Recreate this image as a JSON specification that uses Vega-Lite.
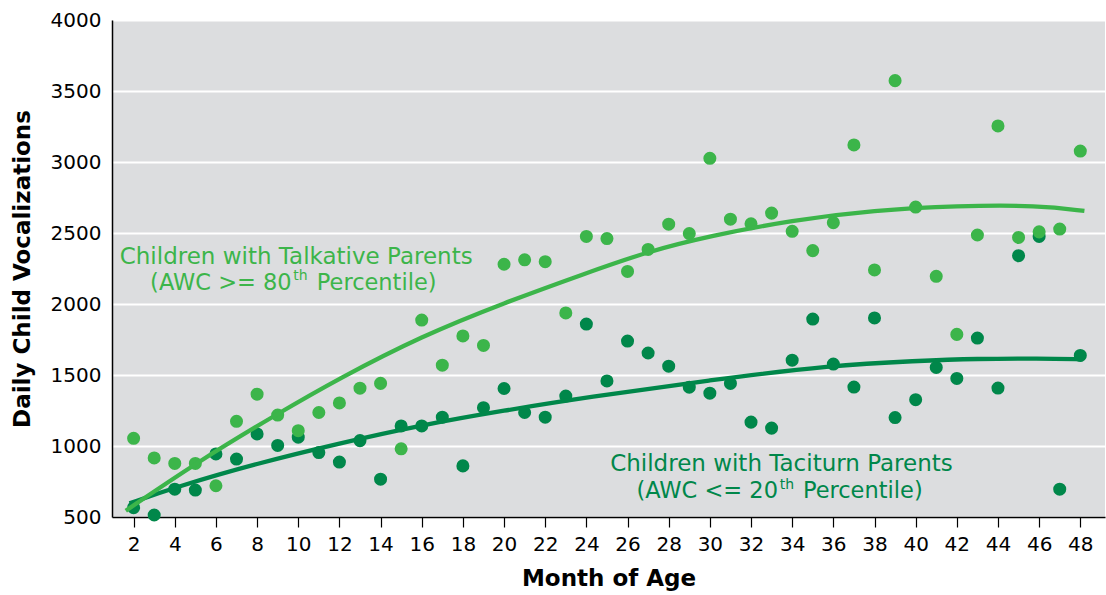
{
  "$schema": "https://vega.github.io/schema/vega-lite/v6.json",
  "width": 993,
  "height": 497,
  "autosize": {"type": "none"},
  "padding": {"left": 112, "top": 20, "right": 1, "bottom": 78},
  "background": "white",
  "config": {
    "view": {"fill": "#DCDDDF", "stroke": null},
    "font": "DejaVu Sans",
    "axis": {"labelFont": "DejaVu Sans", "titleFont": "DejaVu Sans", "labelColor": "black", "titleColor": "black"}
  },
  "datasets": {
    "points": [
      {"month": 2, "value": 566, "series": "Taciturn"},
      {"month": 3, "value": 514, "series": "Taciturn"},
      {"month": 4, "value": 696, "series": "Taciturn"},
      {"month": 5, "value": 690, "series": "Taciturn"},
      {"month": 6, "value": 944, "series": "Taciturn"},
      {"month": 7, "value": 908, "series": "Taciturn"},
      {"month": 8, "value": 1085, "series": "Taciturn"},
      {"month": 9, "value": 1004, "series": "Taciturn"},
      {"month": 10, "value": 1062, "series": "Taciturn"},
      {"month": 11, "value": 954, "series": "Taciturn"},
      {"month": 12, "value": 887, "series": "Taciturn"},
      {"month": 13, "value": 1038, "series": "Taciturn"},
      {"month": 14, "value": 766, "series": "Taciturn"},
      {"month": 15, "value": 1141, "series": "Taciturn"},
      {"month": 16, "value": 1141, "series": "Taciturn"},
      {"month": 17, "value": 1203, "series": "Taciturn"},
      {"month": 18, "value": 860, "series": "Taciturn"},
      {"month": 19, "value": 1270, "series": "Taciturn"},
      {"month": 20, "value": 1405, "series": "Taciturn"},
      {"month": 21, "value": 1236, "series": "Taciturn"},
      {"month": 22, "value": 1203, "series": "Taciturn"},
      {"month": 23, "value": 1352, "series": "Taciturn"},
      {"month": 24, "value": 1859, "series": "Taciturn"},
      {"month": 25, "value": 1458, "series": "Taciturn"},
      {"month": 26, "value": 1739, "series": "Taciturn"},
      {"month": 27, "value": 1655, "series": "Taciturn"},
      {"month": 28, "value": 1562, "series": "Taciturn"},
      {"month": 29, "value": 1414, "series": "Taciturn"},
      {"month": 30, "value": 1372, "series": "Taciturn"},
      {"month": 31, "value": 1441, "series": "Taciturn"},
      {"month": 32, "value": 1168, "series": "Taciturn"},
      {"month": 33, "value": 1126, "series": "Taciturn"},
      {"month": 34, "value": 1604, "series": "Taciturn"},
      {"month": 35, "value": 1894, "series": "Taciturn"},
      {"month": 36, "value": 1577, "series": "Taciturn"},
      {"month": 37, "value": 1415, "series": "Taciturn"},
      {"month": 38, "value": 1902, "series": "Taciturn"},
      {"month": 39, "value": 1200, "series": "Taciturn"},
      {"month": 40, "value": 1326, "series": "Taciturn"},
      {"month": 41, "value": 1553, "series": "Taciturn"},
      {"month": 42, "value": 1476, "series": "Taciturn"},
      {"month": 43, "value": 1760, "series": "Taciturn"},
      {"month": 44, "value": 1408, "series": "Taciturn"},
      {"month": 45, "value": 2340, "series": "Taciturn"},
      {"month": 46, "value": 2476, "series": "Taciturn"},
      {"month": 47, "value": 696, "series": "Taciturn"},
      {"month": 48, "value": 1638, "series": "Taciturn"},
      {"month": 2, "value": 1054, "series": "Talkative"},
      {"month": 3, "value": 916, "series": "Talkative"},
      {"month": 4, "value": 877, "series": "Talkative"},
      {"month": 5, "value": 877, "series": "Talkative"},
      {"month": 6, "value": 720, "series": "Talkative"},
      {"month": 7, "value": 1174, "series": "Talkative"},
      {"month": 8, "value": 1365, "series": "Talkative"},
      {"month": 9, "value": 1218, "series": "Talkative"},
      {"month": 10, "value": 1108, "series": "Talkative"},
      {"month": 11, "value": 1236, "series": "Talkative"},
      {"month": 12, "value": 1303, "series": "Talkative"},
      {"month": 13, "value": 1407, "series": "Talkative"},
      {"month": 14, "value": 1441, "series": "Talkative"},
      {"month": 15, "value": 980, "series": "Talkative"},
      {"month": 16, "value": 1887, "series": "Talkative"},
      {"month": 17, "value": 1569, "series": "Talkative"},
      {"month": 18, "value": 1775, "series": "Talkative"},
      {"month": 19, "value": 1708, "series": "Talkative"},
      {"month": 20, "value": 2280, "series": "Talkative"},
      {"month": 21, "value": 2311, "series": "Talkative"},
      {"month": 22, "value": 2298, "series": "Talkative"},
      {"month": 23, "value": 1937, "series": "Talkative"},
      {"month": 24, "value": 2476, "series": "Talkative"},
      {"month": 25, "value": 2461, "series": "Talkative"},
      {"month": 26, "value": 2229, "series": "Talkative"},
      {"month": 27, "value": 2384, "series": "Talkative"},
      {"month": 28, "value": 2562, "series": "Talkative"},
      {"month": 29, "value": 2496, "series": "Talkative"},
      {"month": 30, "value": 3026, "series": "Talkative"},
      {"month": 31, "value": 2597, "series": "Talkative"},
      {"month": 32, "value": 2565, "series": "Talkative"},
      {"month": 33, "value": 2640, "series": "Talkative"},
      {"month": 34, "value": 2512, "series": "Talkative"},
      {"month": 35, "value": 2376, "series": "Talkative"},
      {"month": 36, "value": 2573, "series": "Talkative"},
      {"month": 37, "value": 3120, "series": "Talkative"},
      {"month": 38, "value": 2240, "series": "Talkative"},
      {"month": 39, "value": 3573, "series": "Talkative"},
      {"month": 40, "value": 2683, "series": "Talkative"},
      {"month": 41, "value": 2195, "series": "Talkative"},
      {"month": 42, "value": 1786, "series": "Talkative"},
      {"month": 43, "value": 2486, "series": "Talkative"},
      {"month": 44, "value": 3254, "series": "Talkative"},
      {"month": 45, "value": 2469, "series": "Talkative"},
      {"month": 46, "value": 2508, "series": "Talkative"},
      {"month": 47, "value": 2528, "series": "Talkative"},
      {"month": 48, "value": 3077, "series": "Talkative"}
    ],
    "fits": [
      {"month": 1.8, "value": 596, "series": "Taciturn"},
      {"month": 4, "value": 709, "series": "Taciturn"},
      {"month": 8, "value": 878, "series": "Taciturn"},
      {"month": 12, "value": 1019, "series": "Taciturn"},
      {"month": 16, "value": 1148, "series": "Taciturn"},
      {"month": 20, "value": 1250, "series": "Taciturn"},
      {"month": 24, "value": 1342, "series": "Taciturn"},
      {"month": 30, "value": 1465, "series": "Taciturn"},
      {"month": 36, "value": 1570, "series": "Taciturn"},
      {"month": 40, "value": 1599, "series": "Taciturn"},
      {"month": 43, "value": 1615, "series": "Taciturn"},
      {"month": 46, "value": 1617, "series": "Taciturn"},
      {"month": 48.1, "value": 1611, "series": "Taciturn"},
      {"month": 1.62, "value": 544, "series": "Talkative"},
      {"month": 5, "value": 878, "series": "Talkative"},
      {"month": 9, "value": 1228, "series": "Talkative"},
      {"month": 12, "value": 1477, "series": "Talkative"},
      {"month": 16, "value": 1775, "series": "Talkative"},
      {"month": 20, "value": 2008, "series": "Talkative"},
      {"month": 24, "value": 2218, "series": "Talkative"},
      {"month": 27, "value": 2370, "series": "Talkative"},
      {"month": 30, "value": 2479, "series": "Talkative"},
      {"month": 34, "value": 2590, "series": "Talkative"},
      {"month": 38, "value": 2660, "series": "Talkative"},
      {"month": 42, "value": 2692, "series": "Talkative"},
      {"month": 46, "value": 2695, "series": "Talkative"},
      {"month": 48.2, "value": 2655, "series": "Talkative"}
    ],
    "notes": [
      {"month": 9.9, "value": 2334, "text": "Children with Talkative Parents", "part": "line1", "series": "Talkative"},
      {"month": 9.68, "value": 2148, "text": "(AWC >= 80", "part": "pre", "series": "Talkative"},
      {"month": 9.76, "value": 2200, "text": "th", "part": "sup", "series": "Talkative"},
      {"month": 10.9, "value": 2148, "text": "Percentile)", "part": "post", "series": "Talkative"},
      {"month": 33.48, "value": 876, "text": "Children with Taciturn Parents", "part": "line1", "series": "Taciturn"},
      {"month": 33.31, "value": 683, "text": "(AWC <= 20", "part": "pre", "series": "Taciturn"},
      {"month": 33.4, "value": 722, "text": "th", "part": "sup", "series": "Taciturn"},
      {"month": 34.52, "value": 683, "text": "Percentile)", "part": "post", "series": "Taciturn"}
    ]
  },
  "encoding": {
    "x": {
      "field": "month", "type": "quantitative",
      "scale": {"domain": [0.95, 49.2], "nice": false, "zero": false},
      "axis": {
        "title": "Month of Age", "titleFontSize": 23, "titleFontWeight": "bold", "titlePadding": 13,
        "values": [2,4,6,8,10,12,14,16,18,20,22,24,26,28,30,32,34,36,38,40,42,44,46,48],
        "grid": false, "domainColor": "black", "domainWidth": 1.5,
        "tickColor": "black", "tickSize": 10, "tickWidth": 1.2,
        "labelFontSize": 20, "labelPadding": 7
      }
    },
    "y": {
      "field": "value", "type": "quantitative",
      "scale": {"domain": [500, 4000], "nice": false, "zero": false},
      "axis": {
        "title": "Daily Child Vocalizations", "titleFontSize": 23, "titleFontWeight": "bold", "titlePadding": 16,
        "values": [500,1000,1500,2000,2500,3000,3500,4000], "format": "d",
        "grid": true, "gridColor": "white", "gridWidth": 2,
        "ticks": false, "domainColor": "black", "domainWidth": 1.5,
        "labelFontSize": 20, "labelPadding": 11
      }
    },
    "color": {
      "field": "series", "type": "nominal",
      "scale": {"domain": ["Talkative", "Taciturn"], "range": ["#3CB54A", "#00874A"]},
      "legend": null
    }
  },
  "layer": [
    {
      "data": {"name": "points"},
      "mark": {"type": "circle", "size": 170, "opacity": 1}
    },
    {
      "data": {"name": "fits"},
      "mark": {"type": "line", "strokeWidth": 4.3, "interpolate": "basis"},
      "encoding": {"detail": {"field": "series"}}
    },
    {
      "data": {"name": "notes"},
      "transform": [{"filter": "datum.part === 'line1'"}],
      "mark": {"type": "text", "fontSize": 23, "align": "center", "baseline": "middle"},
      "encoding": {"text": {"field": "text"}}
    },
    {
      "data": {"name": "notes"},
      "transform": [{"filter": "datum.part === 'pre'"}],
      "mark": {"type": "text", "fontSize": 22.5, "align": "right", "baseline": "middle"},
      "encoding": {"text": {"field": "text"}}
    },
    {
      "data": {"name": "notes"},
      "transform": [{"filter": "datum.part === 'sup'"}],
      "mark": {"type": "text", "fontSize": 14, "align": "left", "baseline": "middle"},
      "encoding": {"text": {"field": "text"}}
    },
    {
      "data": {"name": "notes"},
      "transform": [{"filter": "datum.part === 'post'"}],
      "mark": {"type": "text", "fontSize": 22.5, "align": "left", "baseline": "middle"},
      "encoding": {"text": {"field": "text"}}
    }
  ]
}
